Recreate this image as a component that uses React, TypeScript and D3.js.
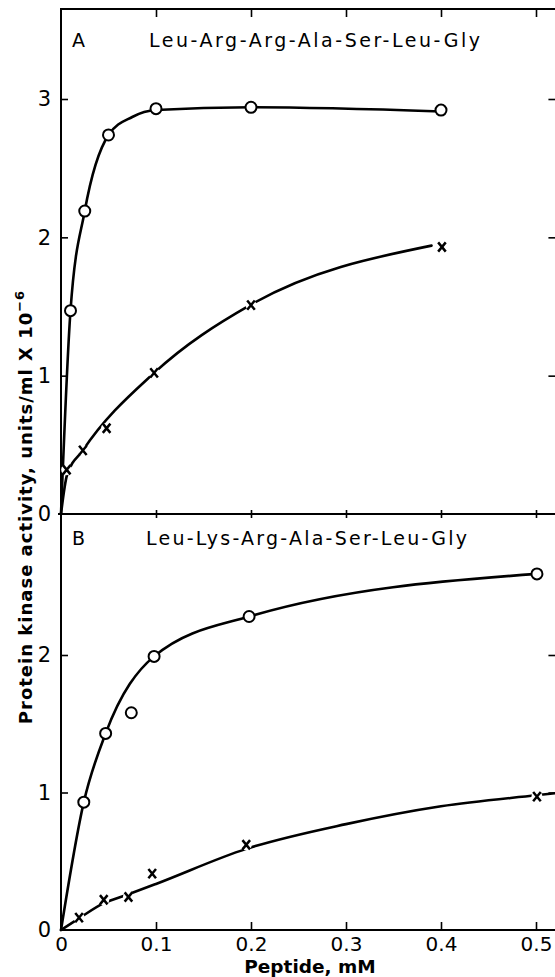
import React, { useEffect, useRef } from "react";
import * as d3 from "d3";

// Panel A: Leu-Arg-Arg-Ala-Ser-Leu-Gly
const concA_circle = [0.01, 0.025, 0.05, 0.1, 0.2, 0.4];
const actA_circle = [1.47, 2.19, 2.74, 2.93, 2.94, 2.92];
const concA_cross = [0.006, 0.023, 0.048, 0.098, 0.2, 0.401];
const actA_cross = [0.32, 0.46, 0.62, 1.02, 1.51, 1.93];

// Panel B: Leu-Lys-Arg-Ala-Ser-Leu-Gly
const concB_circle = [0.024, 0.047, 0.074, 0.098, 0.198, 0.501];
const actB_circle = [0.93, 1.43, 1.58, 1.99, 2.28, 2.59];
const concB_cross = [0.019, 0.045, 0.071, 0.096, 0.195, 0.501];
const actB_cross = [0.09, 0.22, 0.24, 0.41, 0.62, 0.97];

// hand drawn curves
const lineA_circle_x = [0, 0.01, 0.025, 0.05, 0.075, 0.1, 0.2, 0.4];
const lineA_circle_y = [0, 1.47, 2.19, 2.74, 2.87, 2.92, 2.94, 2.91];
const lineA_cross_x = [0, 0.0063, 0.023, 0.098, 0.199, 0.39];
const lineA_cross_y = [0, 0.28, 0.46, 1.02, 1.51, 1.94];
const lineB_circle_x = [0, 0.024, 0.047, 0.098, 0.198, 0.501];
const lineB_circle_y = [0, 0.93, 1.43, 1.99, 2.28, 2.59];
const lineB_cross_x = [0, 0.019, 0.045, 0.071, 0.1, 0.195, 0.3, 0.4, 0.5, 0.52];
const lineB_cross_y = [0, 0.085, 0.195, 0.26, 0.335, 0.59, 0.77, 0.9, 0.98, 0.995];

const xTicks = [0, 0.1, 0.2, 0.3, 0.4, 0.5];
const xTickLabels = ["0", "0.1", "0.2", "0.3", "0.4", "0.5"];
const yTicksA = [0, 1, 2, 3];
const yTicksB = [0, 1, 2];

const FONT = "'DejaVu Sans', 'Liberation Sans', sans-serif";

const zip = (xs: number[], ys: number[]) => xs.map((v, i) => [v, ys[i]] as [number, number]);

const App = () => {
  const ref = useRef<HTMLDivElement>(null);

  useEffect(() => {
    if (!ref.current) return;
    d3.select(ref.current).select("svg").remove();

    const W = 555;
    const H = 977;
    const svg = d3
      .select(ref.current)
      .append("svg")
      .attr("width", W)
      .attr("height", H)
      .style("position", "absolute")
      .style("left", 0)
      .style("top", 0)
      .style("background", "white");

    const x = d3.scaleLinear().domain([0, 0.5]).range([61, 536]);
    const yA = d3.scaleLinear().domain([0, 3]).range([514, 99]);
    const yB = d3.scaleLinear().domain([0, 2]).range([930, 655]);

    const x0 = x(0);
    const xR = x(0.5215);
    const yTop = 9;

    // frame
    const frame = svg.append("g").attr("stroke", "#000").attr("stroke-width", 2).attr("fill", "none");
    frame.append("path").attr("d", `M${xR},${yTop}H${x0}V${yB(0)}H${xR}`);
    frame.append("line").attr("x1", x0 - 3).attr("x2", xR).attr("y1", yA(0)).attr("y2", yA(0));

    const styleAxis = (g: any, size = 18) => {
      g.select(".domain").remove();
      g.selectAll(".tick line").attr("stroke", "#000").attr("stroke-width", 1.6);
      g.selectAll("text")
        .attr("fill", "#000")
        .style("font-family", FONT)
        .style("font-size", `${size}px`);
    };

    // left axes (ticks inward)
    [
      [yA, yTicksA],
      [yB, yTicksB],
    ].forEach(([sc, tv]: any) => {
      svg
        .append("g")
        .attr("transform", `translate(${x0},0)`)
        .call(d3.axisLeft(sc).tickValues(tv).tickSize(-7).tickPadding(10).tickFormat(d3.format("d")))
        .call((g: any) => styleAxis(g, 21));
    });
    // right ticks
    svg
      .append("g")
      .attr("transform", `translate(${xR},0)`)
      .call(d3.axisLeft(yA).tickValues([1, 2, 3]).tickSize(8).tickFormat(() => ""))
      .call((g: any) => styleAxis(g));
    svg
      .append("g")
      .attr("transform", `translate(${xR},0)`)
      .call(d3.axisLeft(yB).tickValues([1, 2]).tickSize(8).tickFormat(() => ""))
      .call((g: any) => styleAxis(g));

    // top ticks
    svg
      .append("g")
      .attr("transform", `translate(0,${yTop})`)
      .call(d3.axisTop(x).tickValues(xTicks.slice(1)).tickSize(-8).tickFormat(() => ""))
      .call((g: any) => styleAxis(g));
    // middle ticks crossing the divider
    svg
      .append("g")
      .attr("transform", `translate(0,${yA(0) - 4})`)
      .call(d3.axisBottom(x).tickValues(xTicks.slice(1)).tickSize(8).tickFormat(() => ""))
      .call((g: any) => styleAxis(g));
    // bottom axis
    svg
      .append("g")
      .attr("transform", `translate(0,${yB(0)})`)
      .call(
        d3
          .axisBottom(x)
          .tickValues(xTicks)
          .tickSize(-8)
          .tickPadding(7)
          .tickFormat((d: any, i: number) => xTickLabels[i])
      )
      .call((g: any) => styleAxis(g, 20));
    svg.selectAll(".tick").filter((d: any) => d === 0).selectAll("line").remove();

    // axis titles
    svg
      .append("text")
      .attr("x", 310)
      .attr("y", 973)
      .attr("text-anchor", "middle")
      .style("font-family", FONT)
      .style("font-weight", "bold")
      .style("font-size", "18.5px")
      .text("Peptide, mM");

    const yTitle = svg
      .append("text")
      .attr("transform", "translate(32,507) rotate(-90)")
      .attr("text-anchor", "middle")
      .style("font-family", FONT)
      .style("font-weight", "bold")
      .style("font-size", "18px")
      .style("letter-spacing", "1px");
    yTitle.append("tspan").text("Protein kinase activity, units/ml X 10");
    yTitle.append("tspan").attr("dy", -8).style("font-size", "13px").text("\u22126");

    // panel labels
    const panels = [
      { letter: "A", title: "Leu-Arg-Arg-Ala-Ser-Leu-Gly", y: 47, x1: 149, x2: 480 },
      { letter: "B", title: "Leu-Lys-Arg-Ala-Ser-Leu-Gly", y: 545, x1: 146, x2: 467 },
    ];
    panels.forEach((p) => {
      svg
        .append("text")
        .attr("x", 72)
        .attr("y", p.y)
        .style("font-family", FONT)
        .style("font-size", "19px")
        .text(p.letter);
      svg
        .append("text")
        .attr("x", p.x1)
        .attr("y", p.y)
        .attr("textLength", p.x2 - p.x1)
        .attr("lengthAdjust", "spacing")
        .style("font-family", FONT)
        .style("font-size", "19px")
        .text(p.title);
    });

    // curves
    const drawCurve = (pts: [number, number][], ys: any) => {
      const line = d3
        .line<[number, number]>()
        .x((d) => x(d[0]))
        .y((d) => ys(d[1]))
        .curve(d3.curveMonotoneX);
      svg
        .append("path")
        .datum(pts)
        .attr("fill", "none")
        .attr("stroke", "#000")
        .attr("stroke-width", 2.6)
        .attr("stroke-linecap", "round")
        .attr("d", line);
    };
    drawCurve(zip(lineA_circle_x, lineA_circle_y), yA);
    drawCurve(zip(lineA_cross_x, lineA_cross_y), yA);
    drawCurve(zip(lineB_circle_x, lineB_circle_y), yB);
    drawCurve(zip(lineB_cross_x, lineB_cross_y), yB);

    // markers
    const drawCircles = (pts: [number, number][], ys: any) => {
      svg
        .append("g")
        .selectAll("circle")
        .data(pts)
        .enter()
        .append("circle")
        .attr("cx", (d) => x(d[0]))
        .attr("cy", (d) => ys(d[1]))
        .attr("r", 5.5)
        .attr("fill", "white")
        .attr("stroke", "#000")
        .attr("stroke-width", 2);
    };
    const drawCrosses = (pts: [number, number][], ys: any) => {
      const g = svg
        .append("g")
        .selectAll("g")
        .data(pts)
        .enter()
        .append("g")
        .attr("transform", (d) => `translate(${x(d[0])},${ys(d[1])})`);
      g.append("circle").attr("r", 5.5).attr("fill", "white");
      g.append("path")
        .attr("d", "M-3.8,-4.6L3.8,4.6M3.8,-4.6L-3.8,4.6")
        .attr("stroke", "#000")
        .attr("stroke-width", 2.5)
        .attr("fill", "none");
    };
    drawCircles(zip(concA_circle, actA_circle), yA);
    drawCrosses(zip(concA_cross, actA_cross), yA);
    drawCircles(zip(concB_circle, actB_circle), yB);
    drawCrosses(zip(concB_cross, actB_cross), yB);
  }, []);

  return <div ref={ref} style={{ width: 555, height: 977 }}></div>;
};

export default App;
